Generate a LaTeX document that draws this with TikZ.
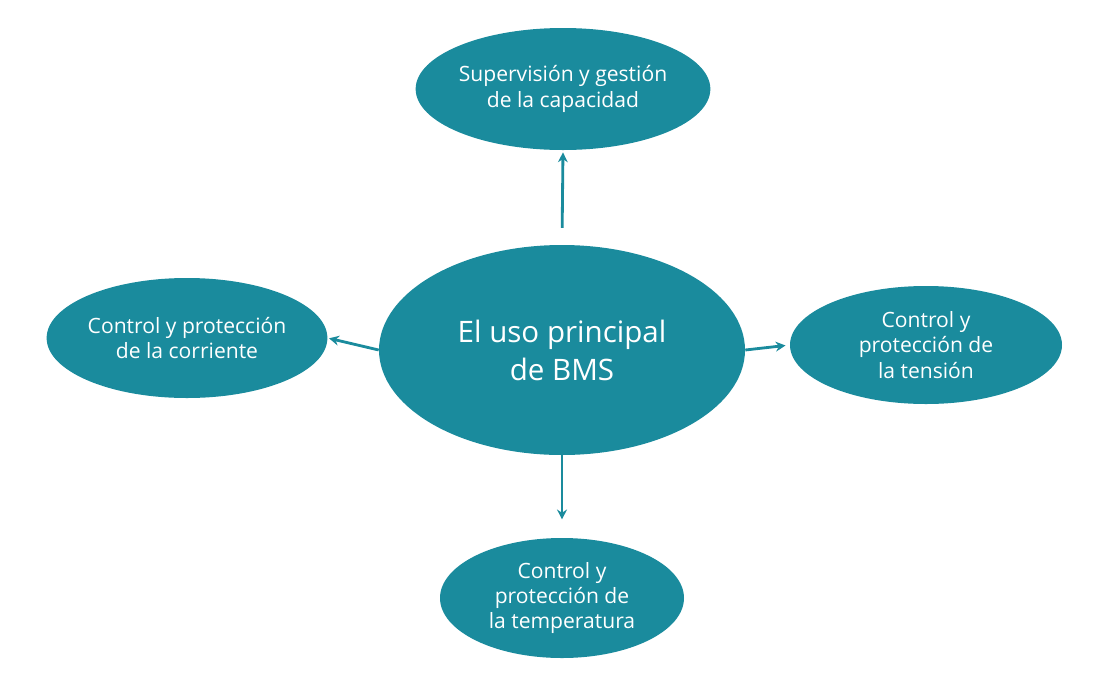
\documentclass[tikz,border=0pt]{standalone}
\usepackage{fontspec}
\setmainfont{Open Sans}
\usetikzlibrary{shapes.geometric,arrows.meta}
\definecolor{bmsteal}{HTML}{1A8B9D}

\begin{document}
\begin{tikzpicture}[x=0.025cm,y=-0.025cm,
    bubble/.style={ellipse, fill=bmsteal, text=white, inner sep=0pt, align=center,
        font=\fontsize{15}{18}\selectfont},
    link/.style={-{Stealth[length=7pt,width=7pt]}, draw=bmsteal, line width=2pt}]

        % Rahmen
        \useasboundingbox (0,0) rectangle (1100,686);

        % Knoten
        \node[bubble, minimum width=366\pgflinewidth*0+366*0.025cm, minimum height=210*0.025cm,
            font=\fontsize{21}{27}\selectfont] (bms) at (562,350) {El uso principal\\de BMS};
        \node[bubble, minimum width=277*0.025cm, minimum height=122*0.025cm] (cap) at (563,89)
            {Supervisión y gestión\\de la capacidad};
        \node[bubble, minimum width=280*0.025cm, minimum height=120*0.025cm] (cor) at (187,338)
            {Control y protección\\de la corriente};
        \node[bubble, minimum width=272*0.025cm, minimum height=118*0.025cm] (ten) at (926,345)
            {Control y\\protección de\\la tensión};
        \node[bubble, minimum width=244*0.025cm, minimum height=120*0.025cm] (tem) at (562,598)
            {Control y\\protección de\\la temperatura};

        % Pfeile
        \draw[link, shorten <=12pt, shorten >=1.5pt] (bms.north) -- (cap.south);
        \draw[link, shorten >=1pt] (bms.west) -- (cor.east);
        \draw[link, shorten >=3pt] (bms.east) -- (ten.west);
        \draw[link, shorten >=13pt] (bms.south) -- (tem.north);
\end{tikzpicture}
\end{document}
